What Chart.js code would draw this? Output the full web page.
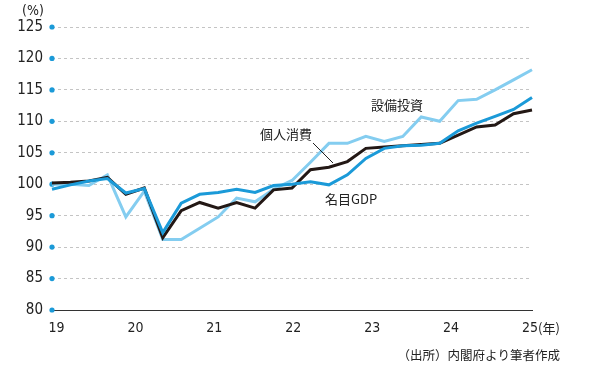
<!DOCTYPE html>
<html>
<head>
<meta charset="utf-8">
<script src="https://cdn.jsdelivr.net/npm/chart.js@4"></script>
<style>
html,body{margin:0;padding:0;background:#fff;}
#wrap{width:600px;height:390px;position:relative;}
</style>
</head>
<body>
<div id="wrap"><canvas id="myChart"></canvas></div>
<script>
// quarters 2018Q4 .. 2025Q2
const quarters = ['18Q4','19Q1','19Q2','19Q3','19Q4','20Q1','20Q2','20Q3','20Q4',
  '21Q1','21Q2','21Q3','21Q4','22Q1','22Q2','22Q3','22Q4','23Q1','23Q2','23Q3','23Q4',
  '24Q1','24Q2','24Q3','24Q4','25Q1','25Q2'];
const yearLabels = ['19','20','21','22','23','24','25'];
const yTicks = [80,85,90,95,100,105,110,115,120,125];

// 個人消費 (black)
const consumption = [100.2,100.3,100.5,101.1,98.4,99.4,91.5,95.8,97.1,96.2,97.1,96.2,99.1,99.4,
  102.3,102.7,103.6,105.7,105.9,106.1,106.3,106.5,107.8,109.1,109.4,111.2,111.8];
// 名目GDP (blue)
const nominalGdp = [99.2,99.9,100.5,100.9,98.6,99.3,92.3,97.0,98.4,98.7,99.2,98.7,99.8,100.0,
  100.4,99.9,101.5,104.1,105.7,106.1,106.2,106.5,108.5,109.7,110.8,111.9,113.8];
// 設備投資 (light blue)
const capex = [100.0,100.0,99.8,101.5,94.8,98.9,91.2,91.2,93.0,94.8,97.8,97.2,99.2,100.6,
  103.5,106.5,106.5,107.6,106.8,107.6,110.7,110.0,113.3,113.5,115.0,116.6,118.2];

const numFont = '"Liberation Sans Narrow","DejaVu Sans Condensed",sans-serif';
const jpFont = '"Noto Sans CJK JP",sans-serif';

const extras = {
  id: 'extras',
  beforeDatasetsDraw(chart){
    const c = chart.ctx, y = chart.scales.y, a = chart.chartArea;
    c.save();
    c.fillStyle = '#1b9ad8';
    yTicks.forEach(v => {
      c.beginPath();
      c.arc(a.left, y.getPixelForValue(v), 2.6, 0, Math.PI*2);
      c.fill();
    });
    c.restore();
  },
  afterDraw(chart){
    const c = chart.ctx, xl = chart.scales.xl;
    c.save();
    c.fillStyle = '#222';
    c.textBaseline = 'middle';
    c.font = '14px ' + numFont;
    c.fillText('(%)', 22, 11);
    c.font = '13px ' + jpFont;
    c.fillText('(年)', xl.getPixelForValue(6) + 8, 328);
    c.fillText('設備投資', 371, 105);
    c.fillText('個人消費', 260, 134);
    c.fillText('名目GDP', 325, 199);
    c.font = '12.5px ' + jpFont;
    c.textAlign = 'right';
    c.fillText('（出所）内閣府より筆者作成', 560, 355);
    c.strokeStyle = '#222';
    c.lineWidth = 1;
    c.beginPath();
    c.moveTo(313, 143);
    c.lineTo(333, 163);
    c.stroke();
    c.restore();
  }
};

const ctx = document.getElementById('myChart');
new Chart(ctx, {
  type: 'line',
  data: {
    labels: quarters,
    datasets: [
      {label: '名目GDP', data: nominalGdp, borderColor: '#1b9ad8', borderWidth: 3, pointRadius: 0, tension: 0},
      {label: '個人消費', data: consumption, borderColor: '#231815', borderWidth: 3, pointRadius: 0, tension: 0},
      {label: '設備投資', data: capex, borderColor: '#84cdf0', borderWidth: 3, pointRadius: 0, tension: 0}
    ]
  },
  plugins: [extras],
  options: {
    responsive: true,
    maintainAspectRatio: false,
    animation: false,
    layout: {padding: {left: 0, top: 27, right: 68, bottom: 50}},
    plugins: {legend: {display: false}, tooltip: {enabled: false}},
    scales: {
      x: {type: 'category', display: false, offset: false},
      xl: {
        type: 'linear', position: 'bottom', min: -0.057, max: 6.025,
        afterBuildTicks: s => { s.ticks = yearLabels.map((t, i) => ({value: i})); },
        afterFit: s => { s.height = 30; },
        ticks: {
          callback: v => yearLabels[v],
          color: '#222', padding: 10, maxRotation: 0, autoSkip: false,
          font: {family: numFont, size: 14}
        },
        grid: {display: false, drawTicks: false},
        border: {display: true, color: '#333', width: 1}
      },
      y: {
        min: 80, max: 125,
        afterBuildTicks: s => { s.ticks = yTicks.map(v => ({value: v})); },
        afterFit: s => { s.width = 52; },
        ticks: {
          color: '#222', padding: 9,
          font: {family: numFont, size: 15}
        },
        grid: {
          drawTicks: false, lineWidth: 1,
          color: c => c.tick && c.tick.value === 80 ? 'rgba(0,0,0,0)' : '#c4c4c4'
        },
        border: {display: false, dash: [3, 3]}
      }
    }
  }
});
</script>
</body>
</html>
